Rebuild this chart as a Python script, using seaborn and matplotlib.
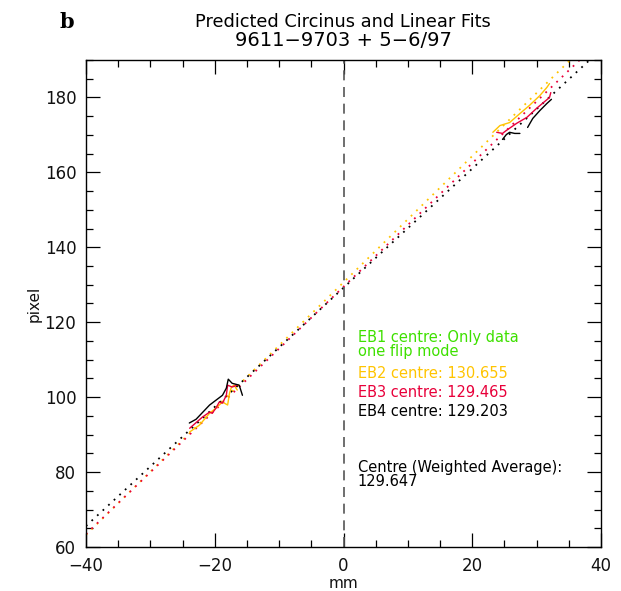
import numpy as np
import pandas as pd
import matplotlib
matplotlib.use("Agg")
import matplotlib.pyplot as plt
import seaborn as sns
from matplotlib.ticker import MultipleLocator

# ---- data ----
eb2_x_lo = [-23.9, -22.4, -20.8, -19.8, -18.8, -18.0, -17.7, -17.4, -17.0, -16.5]
eb2_y_lo = [90.7, 92.5, 95.7, 97.1, 98.7, 97.9, 101.1, 102.7, 103.2, 101.9]
eb3_x_lo = [-23.9, -21.9, -20.8, -20.4, -19.8, -19.3, -18.8, -18.2, -18.0, -17.3, -16.5]
eb3_y_lo = [91.7, 94.7, 96.0, 95.7, 97.1, 98.7, 98.4, 100.5, 103.2, 102.7, 103.2]
eb4_x_lo = [-23.95, -22.9, -20.8, -18.8, -18.2, -17.9, -17.3, -16.2, -15.7]
eb4_y_lo = [93.1, 94.1, 97.9, 100.5, 102.4, 104.8, 103.7, 103.2, 100.5]

eb2_x_hi = [23.2, 24.3, 25.8, 27.4, 28.9, 30.5, 31.6, 32.0]
eb2_y_hi = [170.7, 172.5, 173.3, 175.7, 177.9, 180.5, 182.7, 183.7]
eb3_x_hi = [23.8, 24.7, 25.3, 26.9, 28.5, 30.0, 30.9, 32.0, 32.2]
eb3_y_hi = [170.7, 170.4, 171.2, 173.1, 174.7, 177.1, 178.4, 180.0, 181.3]
eb4_x_hi_a = [24.7, 25.3, 25.8, 26.6, 27.4]
eb4_y_hi_a = [168.8, 170.1, 170.7, 170.4, 170.4]
eb4_x_hi_b = [28.6, 29.4, 30.5, 31.6, 32.3]
eb4_y_hi_b = [172.0, 174.4, 176.5, 178.4, 179.5]

fit_names = ["EB2", "EB3", "EB4"]
fit_intercepts = [130.655, 129.465, 129.203]
fit_slopes = [1.685, 1.65, 1.59]
fit_x_range = [-40, 40]

centre_avg = 129.647

colors = {"EB1": "#3ee000", "EB2": "#ffc400", "EB3": "#e8003a", "EB4": "#000000"}

# ---- build long table ----
rows = []
def add(name, seg, xs, ys):
    for x, y in zip(xs, ys):
        rows.append(dict(series=name, seg=f"{name}-{seg}", x=x, y=y))
add("EB2", "lo", eb2_x_lo, eb2_y_lo)
add("EB3", "lo", eb3_x_lo, eb3_y_lo)
add("EB4", "lo", eb4_x_lo, eb4_y_lo)
add("EB2", "hi", eb2_x_hi, eb2_y_hi)
add("EB3", "hi", eb3_x_hi, eb3_y_hi)
add("EB4", "hia", eb4_x_hi_a, eb4_y_hi_a)
add("EB4", "hib", eb4_x_hi_b, eb4_y_hi_b)
df = pd.DataFrame(rows)

sns.set_style("ticks")
plt.rcParams['font.family'] = ['DejaVu Sans']
plt.rcParams['text.color'] = 'black'
plt.rcParams['axes.labelcolor'] = 'black'
plt.rcParams['xtick.color'] = 'black'
plt.rcParams['ytick.color'] = 'black'

fig = plt.figure(figsize=(6.21, 5.91), dpi=100)
ax = fig.add_axes([86/621, 1 - 547/591, (601-86)/621, (547-60)/591])

# fit lines
xr = np.array(fit_x_range, dtype=float)
for name, b, m in zip(fit_names, fit_intercepts, fit_slopes):
    sns.lineplot(x=xr, y=b + m * xr, ax=ax, color=colors[name], lw=1.3,
                 linestyle=(0, (1, 3.2)), legend=False)

# data segments
for seg, sub in df.groupby("seg", sort=False):
    name = sub["series"].iloc[0]
    sns.lineplot(data=sub, x="x", y="y", ax=ax, color=colors[name], lw=1.0,
                 sort=False, estimator=None, legend=False)

ax.axvline(0, color="#555555", lw=1.2, linestyle=(0, (6, 4)))

ax.set_xlim(-40, 40)
ax.set_ylim(60, 190)
ax.xaxis.set_major_locator(MultipleLocator(20))
ax.xaxis.set_minor_locator(MultipleLocator(5))
ax.yaxis.set_major_locator(MultipleLocator(20))
ax.yaxis.set_minor_locator(MultipleLocator(5))
ax.tick_params(which="both", direction="in", top=True, right=True, color="black",
               labelcolor="#111111", width=0.9, labelsize=12, pad=7)
ax.tick_params(which="major", length=10)
ax.tick_params(which="minor", length=5)
for s in ax.spines.values():
    s.set_color("black")
    s.set_linewidth(1.0)
ax.set_xlabel("mm", fontsize=11, labelpad=1, color="#111111")
ax.set_ylabel("pixel", fontsize=11, labelpad=2, color="#111111")
ax.set_xticks([-40, -20, 0, 20, 40])
ax.set_xticklabels([f"{t}".replace("-", "\u2212") for t in [-40, -20, 0, 20, 40]])

# annotations
tx = 2.2
fs = 10.5
ax.text(tx, 116.0, "EB1 centre: Only data", color=colors["EB1"], fontsize=fs, va="center")
ax.text(tx, 112.3, "one flip mode", color=colors["EB1"], fontsize=fs, va="center")
ax.text(tx, 106.4, f"EB2 centre: {fit_intercepts[0]:.3f}", color=colors["EB2"], fontsize=fs, va="center")
ax.text(tx, 101.3, f"EB3 centre: {fit_intercepts[1]:.3f}", color=colors["EB3"], fontsize=fs, va="center")
ax.text(tx, 96.3, f"EB4 centre: {fit_intercepts[2]:.3f}", color=colors["EB4"], fontsize=fs, va="center")
ax.text(tx, 81.3, "Centre (Weighted Average):", color="black", fontsize=fs, va="center")
ax.text(tx, 77.6, f"{centre_avg:.3f}", color="black", fontsize=fs, va="center")

fig.text(343/621, 1 - 22/591, "Predicted Circinus and Linear Fits", ha="center", va="center",
         fontsize=12.8)
fig.text(343/621, 1 - 41/591, "9611\u22129703 + 5\u22126/97", ha="center", va="center",
         fontsize=14)
fig.text(67/621, 1 - 22/591, "b", ha="center", va="center", fontsize=15,
         fontweight="bold", family="DejaVu Serif")

fig.savefig("out.png", dpi=100, facecolor="white")
